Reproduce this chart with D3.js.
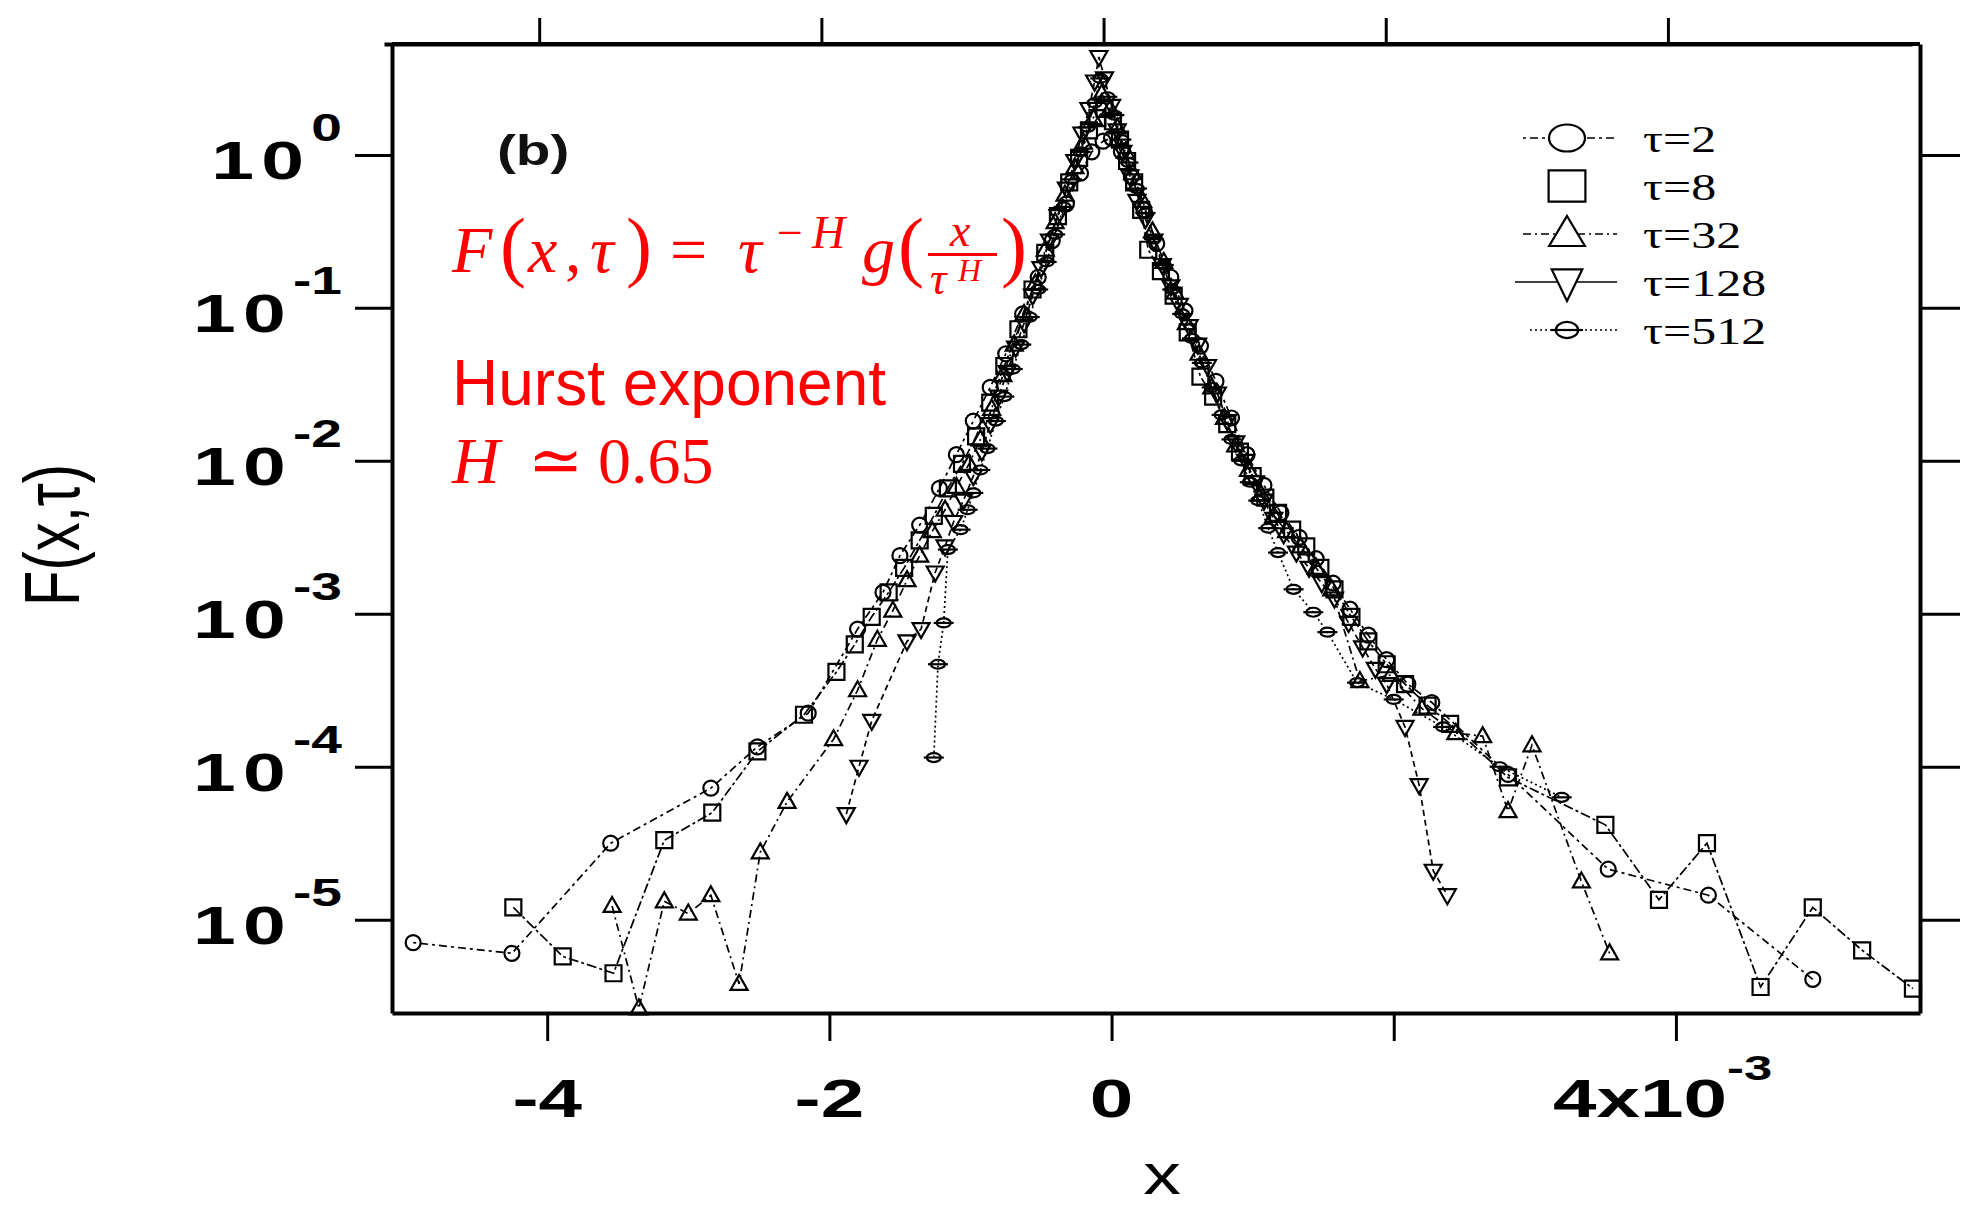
<!DOCTYPE html>
<html lang="en">
<head>
<meta charset="UTF-8">
<title>F(x,tau) collapse</title>
<script src="https://d3js.org/d3.v7.min.js"></script>
<style>
  body { margin: 0; background: #fff; }
  svg { display: block; }
  .axis path.domain { stroke: #000; stroke-width: 4; }
  .axis line { stroke: #000; stroke-width: 3; }
</style>
</head>
<body>
<svg width="1972" height="1206"></svg>
<script>
// legend labels
const tauLabels = ["τ=2", "τ=8", "τ=32", "τ=128", "τ=512"];

// each point: [x in units of 1e-3, log10 F(x,tau)]
const tau2 = [[-4.95,-5.15],[-4.25,-5.22],[-3.55,-4.50],[-2.84,-4.14],[-2.51,-3.87],[-2.15,-3.65],[-1.80,-3.10],
  [-1.62,-2.86],[-1.50,-2.62],[-1.36,-2.42],[-1.22,-2.18],[-1.10,-1.96],[-0.98,-1.74],[-0.86,-1.52],[-0.75,-1.30],
  [-0.63,-1.04],[-0.52,-0.80],[-0.42,-0.56],[-0.32,-0.32],[-0.22,-0.12],[-0.14,0.02],[-0.06,0.09],[0.00,0.11],
  [0.07,0.02],[0.14,-0.14],[0.23,-0.36],[0.32,-0.58],[0.42,-0.80],[0.52,-1.02],[0.63,-1.25],[0.74,-1.48],
  [0.85,-1.72],[0.96,-1.96],[1.08,-2.16],[1.20,-2.34],[1.33,-2.50],[1.45,-2.64],[1.57,-2.80],[1.69,-2.97],
  [1.82,-3.14],[1.95,-3.30],[2.10,-3.46],[2.27,-3.58],[2.81,-4.05],[3.52,-4.67],[4.23,-4.84],[4.97,-5.39]];

const tau8 = [[-4.24,-4.92],[-3.89,-5.24],[-3.53,-5.35],[-3.17,-4.48],[-2.83,-4.30],[-2.51,-3.90],[-2.18,-3.66],
  [-1.95,-3.38],[-1.82,-3.20],[-1.70,-3.02],[-1.58,-2.86],[-1.47,-2.70],[-1.36,-2.52],[-1.26,-2.36],[-1.16,-2.18],
  [-1.06,-2.02],[-0.96,-1.84],[-0.86,-1.62],[-0.76,-1.38],[-0.66,-1.14],[-0.56,-0.88],[-0.47,-0.64],[-0.38,-0.40],
  [-0.30,-0.18],[-0.23,-0.02],[-0.16,0.16],[-0.10,0.24],[-0.05,0.30],[0.01,0.22],[0.06,0.10],[0.11,-0.04],
  [0.16,-0.18],[0.21,-0.36],[0.26,-0.62],[0.35,-0.76],[0.44,-0.92],[0.54,-1.16],[0.63,-1.45],[0.72,-1.58],
  [0.82,-1.76],[0.91,-1.94],[1.00,-2.10],[1.09,-2.24],[1.18,-2.34],[1.28,-2.45],[1.38,-2.56],[1.48,-2.70],
  [1.58,-2.84],[1.70,-3.02],[1.82,-3.18],[1.95,-3.33],[2.08,-3.46],[2.24,-3.60],[2.40,-3.72],[2.81,-4.07],
  [3.50,-4.38],[3.88,-4.87],[4.22,-4.50],[4.60,-5.44],[4.97,-4.92],[5.32,-5.20],[5.68,-5.45]];

const tau32 = [[-3.54,-4.91],[-3.35,-5.58],[-3.17,-4.88],[-3.00,-4.96],[-2.84,-4.84],[-2.64,-5.42],[-2.49,-4.56],
  [-2.30,-4.23],[-1.97,-3.82],[-1.80,-3.50],[-1.66,-3.17],[-1.55,-2.98],[-1.45,-2.78],[-1.36,-2.62],[-1.27,-2.46],
  [-1.18,-2.32],[-1.10,-2.17],[-1.01,-2.02],[-0.93,-1.86],[-0.85,-1.66],[-0.77,-1.44],[-0.69,-1.24],[-0.62,-1.04],
  [-0.54,-0.84],[-0.47,-0.62],[-0.40,-0.44],[-0.33,-0.26],[-0.26,-0.08],[-0.20,0.08],[-0.13,0.24],[-0.07,0.40],
  [-0.01,0.30],[0.04,0.18],[0.10,0.02],[0.15,-0.12],[0.22,-0.30],[0.29,-0.50],[0.37,-0.70],[0.45,-0.90],
  [0.53,-1.10],[0.62,-1.30],[0.71,-1.52],[0.80,-1.72],[0.88,-1.90],[0.97,-2.06],[1.06,-2.22],[1.15,-2.36],
  [1.24,-2.46],[1.34,-2.56],[1.45,-2.70],[1.56,-2.84],[1.76,-3.44],[1.98,-3.40],[2.20,-3.62],[2.44,-3.78],
  [2.63,-3.80],[2.81,-4.29],[2.98,-3.86],[3.33,-4.75],[3.53,-5.22]];

const tau128 = [[-1.88,-4.31],[-1.79,-4.00],[-1.70,-3.70],[-1.45,-3.18],[-1.35,-3.10],[-1.25,-2.73],[-1.18,-2.56],
  [-1.12,-2.40],[-1.05,-2.26],[-0.98,-2.10],[-0.92,-1.94],[-0.86,-1.76],[-0.80,-1.58],[-0.74,-1.42],[-0.68,-1.26],
  [-0.62,-1.10],[-0.56,-0.92],[-0.50,-0.74],[-0.44,-0.56],[-0.38,-0.40],[-0.32,-0.22],[-0.26,-0.04],[-0.21,0.14],
  [-0.16,0.30],[-0.12,0.48],[-0.09,0.64],[-0.05,0.50],[0.00,0.32],[0.04,0.16],[0.08,0.02],[0.13,-0.14],
  [0.18,-0.30],[0.24,-0.42],[0.30,-0.56],[0.36,-0.72],[0.42,-0.86],[0.48,-0.98],[0.55,-1.12],[0.61,-1.24],
  [0.68,-1.38],[0.75,-1.56],[0.82,-1.74],[0.88,-1.88],[0.95,-2.00],[1.02,-2.14],[1.08,-2.26],[1.15,-2.38],
  [1.22,-2.48],[1.31,-2.60],[1.40,-2.70],[1.49,-2.80],[1.58,-2.90],[1.68,-3.06],[1.78,-3.22],[1.87,-3.36],
  [1.95,-3.46],[2.08,-3.74],[2.18,-4.12],[2.28,-4.68],[2.38,-4.84]];

const tau512 = [[-1.26,-3.94],[-1.23,-3.33],[-1.19,-3.06],[-1.16,-2.58],[-1.07,-2.45],[-1.02,-2.32],[-0.98,-2.21],
  [-0.93,-2.06],[-0.88,-1.92],[-0.82,-1.74],[-0.76,-1.58],[-0.70,-1.40],[-0.64,-1.24],[-0.58,-1.06],[-0.52,-0.88],
  [-0.46,-0.70],[-0.40,-0.52],[-0.34,-0.34],[-0.28,-0.16],[-0.22,0.02],[-0.17,0.18],[-0.12,0.34],[-0.08,0.50],
  [-0.03,0.38],[0.02,0.26],[0.07,0.10],[0.12,-0.05],[0.18,-0.22],[0.24,-0.38],[0.30,-0.55],[0.37,-0.72],
  [0.43,-0.88],[0.50,-1.04],[0.57,-1.20],[0.64,-1.36],[0.71,-1.52],[0.78,-1.70],[0.85,-1.86],[0.92,-2.00],
  [0.98,-2.14],[1.04,-2.26],[1.11,-2.44],[1.18,-2.60],[1.29,-2.84],[1.43,-2.99],[1.53,-3.12],[1.74,-3.45],
  [2.00,-3.56],[2.35,-3.74],[2.75,-4.00],[3.19,-4.20]];

// axis ticks
const xTicks = [-4, -2, 0, 2, 4];
const xTickLabels = ["-4", "-2", "0", "", "4x10"];
const yExponents = [0, -1, -2, -3, -4, -5];

const seriesData = [tau2, tau8, tau32, tau128, tau512];
const markerKinds = ["circle", "square", "up", "down", "ellipse"];
const dashes = ["3,4,8,4", "10,3,3,3", "8,4,2,4", "6,4", "2,3"];
const legendDashes = ["3,4,8,4", null, "8,4,2,4", null, "2,3"];

const sans = "'Liberation Sans', Arial, sans-serif";
const serif = "'Liberation Serif', 'Times New Roman', 'DejaVu Serif', serif";
const stretch = 1.45;   // the scanned figure is stretched horizontally

const svg = d3.select("svg");
const plotL = 392, plotR = 1920, plotT = 44, plotB = 1013;

const x = d3.scaleLinear().domain([-5.10, 5.73]).range([plotL, plotR]);
const y = d3.scaleLog().domain([Math.pow(10, -5.61), Math.pow(10, 0.725)]).range([plotB, plotT]);
const yv = lf => y(Math.pow(10, lf));

// frame + ticks
svg.append("g").attr("class", "axis").attr("transform", `translate(0,${plotB})`)
  .call(d3.axisBottom(x).tickValues(xTicks).tickSize(28).tickSizeOuter(0).tickFormat(""));
svg.append("g").attr("class", "axis").attr("transform", `translate(-8,${plotT})`)
  .call(d3.axisTop(x).tickValues(xTicks).tickSize(26).tickSizeOuter(0).tickFormat(""));
svg.append("g").attr("class", "axis").attr("transform", `translate(${plotL},0)`)
  .call(d3.axisLeft(y).tickValues(yExponents.map(e => Math.pow(10, e))).tickSize(37).tickSizeOuter(0).tickFormat(""));
svg.append("g").attr("class", "axis").attr("transform", `translate(${plotR},0)`)
  .call(d3.axisRight(y).tickValues(yExponents.map(e => Math.pow(10, e))).tickSize(40).tickSizeOuter(0).tickFormat(""));
// keep the top frame line full width despite the shifted ticks
svg.append("line").attr("x1", plotL).attr("x2", plotR).attr("y1", plotT).attr("y2", plotT)
  .attr("stroke", "#000").attr("stroke-width", 4);

// y tick labels: 10^k
yExponents.forEach(e => {
  const t = svg.append("text")
    .attr("transform", `translate(342,${yv(e) + 24}) scale(${stretch},1)`)
    .attr("text-anchor", "end").attr("font-family", sans).attr("font-weight", "bold");
  t.append("tspan").attr("font-size", 53).attr("letter-spacing", 5).text("10");
  t.append("tspan").attr("font-size", 38).attr("dy", -38).text(e === 0 ? "0" : "-" + (-e));
});

// x tick labels
xTicks.forEach((v, i) => {
  if (!xTickLabels[i]) return;
  const last = i === xTicks.length - 1;
  const t = svg.append("text")
    .attr("transform", `translate(${last ? x(v) - 123 : x(v)},1117) scale(${stretch},1)`)
    .attr("text-anchor", last ? "start" : "middle")
    .attr("font-family", sans).attr("font-weight", "bold").attr("font-size", 54);
  t.append("tspan").text(xTickLabels[i]);
  if (last) t.append("tspan").attr("font-size", 35).attr("dy", -37).text("-3");
});

// axis titles
svg.append("text")
  .attr("transform", `translate(1162,1194) scale(1.3,1)`)
  .attr("text-anchor", "middle").attr("font-family", sans).attr("font-size", 58).text("x");
svg.append("text")
  .attr("transform", `translate(79,535) scale(1.35,1) rotate(-90)`)
  .attr("text-anchor", "middle").attr("font-family", sans).attr("font-size", 58).text("F(x,τ)");

// panel tag
svg.append("text")
  .attr("transform", `translate(497,165) scale(1.35,1)`)
  .attr("font-family", sans).attr("font-weight", "bold").attr("font-size", 42).attr("fill", "#111").text("(b)");

// series lines
const line = d3.line().x(d => x(d[0])).y(d => yv(d[1]));
seriesData.forEach((data, i) => {
  svg.append("path").datum(data)
    .attr("d", line).attr("fill", "none").attr("stroke", "#000")
    .attr("stroke-width", 1.7).attr("stroke-dasharray", dashes[i]);
});

function drawMarker(sel, kind) {
  const common = s => s.attr("fill", "none").attr("stroke", "#000").attr("stroke-width", 2.2)
    .attr("vector-effect", "non-scaling-stroke");
  if (kind === "circle") common(sel.append("circle").attr("r", 7.5));
  else if (kind === "square") common(sel.append("rect").attr("x", -8).attr("y", -8).attr("width", 16).attr("height", 16));
  else if (kind === "up") common(sel.append("path").attr("d", "M0,-9L8.5,6L-8.5,6Z"));
  else if (kind === "down") common(sel.append("path").attr("d", "M0,9L8.5,-6L-8.5,-6Z"));
  else {
    common(sel.append("ellipse").attr("rx", 7).attr("ry", 4.5));
    common(sel.append("line").attr("x1", -10).attr("x2", 10));
  }
}

seriesData.forEach((data, i) => {
  svg.append("g").selectAll("g").data(data).join("g")
    .attr("transform", d => `translate(${x(d[0])},${yv(d[1])})`)
    .each(function () { drawMarker(d3.select(this), markerKinds[i]); });
});

// legend (markers drawn larger than in the plot, as in the scan)
const legendLines = [[1523, 1615], null, [1523, 1617], [1515, 1617], [1530, 1620]];
const legendScale = ["2.4,1.8", "2.3,1.95", "2.1,2.0", "1.8,2.1", "1.6,1.8"];
tauLabels.forEach((lab, i) => {
  const ry = 138 + i * 48;
  if (legendLines[i]) {
    svg.append("line").attr("x1", legendLines[i][0]).attr("x2", legendLines[i][1])
      .attr("y1", ry).attr("y2", ry).attr("stroke", "#000").attr("stroke-width", 1.7)
      .attr("stroke-dasharray", legendDashes[i]);
  }
  const mk = svg.append("g").attr("transform", `translate(1567,${ry}) scale(${legendScale[i]})`);
  drawMarker(mk, markerKinds[i]);
  mk.selectAll("circle,rect,path,ellipse").attr("fill", "#fff");
  svg.append("text")
    .attr("transform", `translate(1643,${ry + 14}) scale(1.35,1)`)
    .attr("font-family", serif).attr("font-size", 37).text(lab);
});

// red annotations
const red = "#ff0000";
const formula = [
  ["F", 452, 272, 66, true], ["(", 500, 272, 78, false], ["x", 528, 272, 66, true], [",", 565, 272, 66, false],
  ["τ", 590, 272, 66, true], [")", 626, 272, 78, false], ["=", 670, 272, 66, false], ["τ", 738, 272, 66, true],
  ["−", 777, 248, 46, false], ["H", 812, 248, 46, true], ["g", 862, 272, 66, true], ["(", 898, 272, 78, false],
  ["x", 950, 246, 46, true], ["τ", 930, 294, 46, true], ["H", 958, 281, 32, true], [")", 1001, 272, 78, false]
];
formula.forEach(([t, px, py, fs, it]) => {
  svg.append("text").attr("x", px).attr("y", py).attr("font-family", serif)
    .attr("font-size", fs).attr("font-style", it ? "italic" : "normal").attr("fill", red).text(t);
});
svg.append("rect").attr("x", 928).attr("y", 253).attr("width", 69).attr("height", 3).attr("fill", red);

svg.append("text").attr("x", 452).attr("y", 405).attr("font-family", sans)
  .attr("font-size", 64).attr("fill", red).text("Hurst exponent");
svg.append("text").attr("x", 452).attr("y", 483).attr("font-family", serif)
  .attr("font-size", 66).attr("font-style", "italic").attr("fill", red).text("H");
svg.append("text").attr("x", 528).attr("y", 483).attr("font-family", serif)
  .attr("font-size", 66).attr("fill", red).text("≃");
svg.append("text").attr("x", 598).attr("y", 483).attr("font-family", serif)
  .attr("font-size", 66).attr("fill", red).text("0.65");
</script>
</body>
</html>
